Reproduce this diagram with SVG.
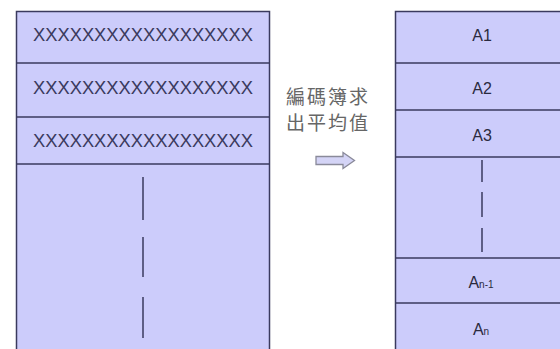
<svg xmlns="http://www.w3.org/2000/svg" width="560" height="349" viewBox="0 0 560 349">
<style>
.box{fill:#ccccfb;stroke:#3a3a5e;stroke-width:1.5}
.div{stroke:#3a3a5e;stroke-width:1.5}
.dash{stroke:#3a3a5e;stroke-width:1.5}
.x{font-family:"Liberation Sans",Arial,sans-serif;font-size:19px;fill:#3a3a5e;text-anchor:middle}
.a{font-family:"Liberation Sans",Arial,sans-serif;font-size:16px;fill:#2a2a3e;text-anchor:middle}
.cn{font-family:"Noto Sans CJK TC","Noto Sans CJK SC",sans-serif;font-size:19px;fill:#666;text-anchor:middle}
</style>
<rect width="560" height="349" fill="#fff"/>
<g id="left">
<rect class="box" x="16.5" y="11.5" width="253" height="342"/>
<line class="div" x1="16.5" y1="63" x2="269.5" y2="63"/>
<line class="div" x1="16.5" y1="117" x2="269.5" y2="117"/>
<line class="div" x1="16.5" y1="164" x2="269.5" y2="164"/>
<text class="x" x="143" y="41" textLength="220" lengthAdjust="spacingAndGlyphs">XXXXXXXXXXXXXXXXXX</text>
<text class="x" x="143" y="94" textLength="220" lengthAdjust="spacingAndGlyphs">XXXXXXXXXXXXXXXXXX</text>
<text class="x" x="143" y="147" textLength="220" lengthAdjust="spacingAndGlyphs">XXXXXXXXXXXXXXXXXX</text>
<line class="dash" x1="143" y1="177" x2="143" y2="220"/>
<line class="dash" x1="143" y1="237" x2="143" y2="277"/>
<line class="dash" x1="143" y1="297" x2="143" y2="338"/>
</g>
<g id="label">
<text class="cn" x="327" y="104" textLength="82">編碼簿求</text>
<text class="cn" x="327" y="130" textLength="82">出平均值</text>
</g>
<g id="connectors">
<path d="M316 156.5 H343 V152.5 L354.5 160.5 L343 168.5 V164.5 H316 Z" fill="#d4d4f6" stroke="#8a8a9a" stroke-width="1.3"/>
</g>
<g id="right">
<rect class="box" x="395.5" y="11.5" width="175" height="342"/>
<line class="div" x1="395.5" y1="63" x2="570" y2="63"/>
<line class="div" x1="395.5" y1="110" x2="570" y2="110"/>
<line class="div" x1="395.5" y1="157" x2="570" y2="157"/>
<line class="div" x1="395.5" y1="258" x2="570" y2="258"/>
<line class="div" x1="395.5" y1="303" x2="570" y2="303"/>
<text class="a" x="482" y="41">A1</text>
<text class="a" x="482" y="94">A2</text>
<text class="a" x="482" y="141">A3</text>
<line class="dash" x1="482" y1="160" x2="482" y2="182"/>
<line class="dash" x1="482" y1="192" x2="482" y2="217"/>
<line class="dash" x1="482" y1="228" x2="482" y2="252"/>
<text class="a" x="481" y="288">A<tspan font-size="10">n-1</tspan></text>
<text class="a" x="481" y="335">A<tspan font-size="10">n</tspan></text>
</g>
</svg>
